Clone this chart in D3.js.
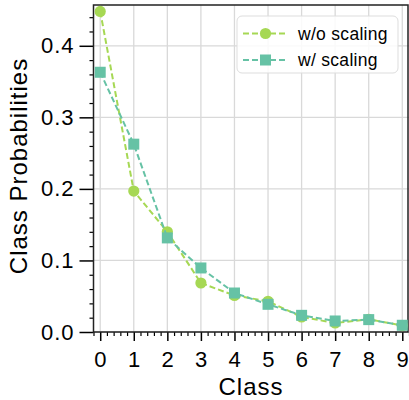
<!DOCTYPE html>
<html>
<head>
  <meta charset="utf-8">
  <title>Class Probabilities</title>
  <script src="https://cdnjs.cloudflare.com/ajax/libs/d3/7.8.5/d3.min.js"></script>
  <style>
    body { margin: 0; background: #fff; }
    text { font-family: "Liberation Sans", Arial, sans-serif; }
  </style>
</head>
<body>
<div id="chart"></div>
<script>
var classes = [0, 1, 2, 3, 4, 5, 6, 7, 8, 9];
var withoutScaling = [0.448, 0.197, 0.140, 0.0685, 0.051, 0.043, 0.021, 0.0126, 0.0178, 0.009];
var withScaling = [0.363, 0.2625, 0.1315, 0.0895, 0.0545, 0.0387, 0.0233, 0.0154, 0.0173, 0.0094];
var yTicks = [0.0, 0.1, 0.2, 0.3, 0.4];
var seriesNames = ['w/o scaling', 'w/ scaling'];

var W = 409, H = 400;
var svg = d3.select('#chart').append('svg')
  .attr('width', W).attr('height', H);

var x = d3.scaleLinear().domain([-0.2, 9.2]).range([93.5, 409]);
var y = d3.scaleLinear().domain([0, 0.457]).range([332, 5]);

// grid
svg.append('g').selectAll('line').data(classes).enter().append('line')
  .attr('x1', d => x(d)).attr('x2', d => x(d))
  .attr('y1', y.range()[1]).attr('y2', y.range()[0])
  .attr('stroke', '#d9d9d9').attr('stroke-width', 1.3);
svg.append('g').selectAll('line').data(yTicks).enter().append('line')
  .attr('y1', d => y(d)).attr('y2', d => y(d))
  .attr('x1', x.range()[0]).attr('x2', x.range()[1])
  .attr('stroke', '#d9d9d9').attr('stroke-width', 1.3);

// axes
var xMinor = d3.range(-0.2, 9.21, 0.2).filter(v => Math.abs(v - Math.round(v)) > 0.01);
var yMinor = d3.range(0, 0.457, 0.02).filter(v => Math.abs(v * 10 - Math.round(v * 10)) > 0.01);

svg.append('g').attr('transform', 'translate(0,332)')
  .call(d3.axisBottom(x).tickValues(xMinor).tickSize(4).tickFormat(''))
  .call(g => g.select('.domain').remove())
  .selectAll('line').attr('stroke-width', 1.2);
svg.append('g').attr('transform', 'translate(0,332)')
  .call(d3.axisBottom(x).tickValues(classes).tickSize(9).tickPadding(10).tickFormat(d3.format('d')))
  .call(g => g.select('.domain').remove())
  .call(g => g.selectAll('line').attr('stroke-width', 1.5))
  .call(g => g.selectAll('text').attr('font-size', 22).attr('letter-spacing', 0.5).attr('fill', '#000'));

svg.append('g').attr('transform', 'translate(93.5,0)')
  .call(d3.axisLeft(y).tickValues(yMinor).tickSize(4).tickFormat(''))
  .call(g => g.select('.domain').remove())
  .selectAll('line').attr('stroke-width', 1.2);
svg.append('g').attr('transform', 'translate(93.5,0)')
  .call(d3.axisLeft(y).tickValues(yTicks).tickSize(14).tickPadding(5).tickFormat(d3.format('.1f')))
  .call(g => g.select('.domain').remove())
  .call(g => g.selectAll('line').attr('stroke-width', 1.5))
  .call(g => g.selectAll('text').attr('font-size', 22).attr('letter-spacing', 1).attr('fill', '#000'));

// frame
svg.append('rect')
  .attr('x', x.range()[0]).attr('y', y.range()[1])
  .attr('width', x.range()[1] - x.range()[0] - 1)
  .attr('height', y.range()[0] - y.range()[1])
  .attr('fill', 'none').attr('stroke', '#222').attr('stroke-width', 1.5);

// series
var colors = ['#a6d854', '#66c2a5'];
var data = [withoutScaling, withScaling];
var line = d3.line().x((d, i) => x(classes[i])).y(d => y(d));

data.forEach(function(vals, k) {
  svg.append('path').datum(vals)
    .attr('d', line).attr('fill', 'none')
    .attr('stroke', colors[k]).attr('stroke-width', 2)
    .attr('stroke-dasharray', '6,3');
  var g = svg.append('g');
  if (k === 0) {
    g.selectAll('circle').data(vals).enter().append('circle')
      .attr('cx', (d, i) => x(classes[i])).attr('cy', d => y(d))
      .attr('r', 5.6).attr('fill', colors[k]);
  } else {
    g.selectAll('rect').data(vals).enter().append('rect')
      .attr('x', (d, i) => x(classes[i]) - 5.5).attr('y', d => y(d) - 5.5)
      .attr('width', 11).attr('height', 11).attr('fill', colors[k]);
  }
});

// legend
var lg = svg.append('g');
lg.append('rect').attr('x', 237).attr('y', 16).attr('width', 161).attr('height', 57)
  .attr('rx', 5).attr('fill', 'rgba(255,255,255,0.85)')
  .attr('stroke', '#dddddd').attr('stroke-width', 1);
var rowsY = [33.5, 60];
seriesNames.forEach(function(name, k) {
  var cy = rowsY[k];
  lg.append('line').attr('x1', 243).attr('x2', 288).attr('y1', cy).attr('y2', cy)
    .attr('stroke', colors[k]).attr('stroke-width', 2).attr('stroke-dasharray', '6,3');
  if (k === 0) {
    lg.append('circle').attr('cx', 265.5).attr('cy', cy).attr('r', 5.6).attr('fill', colors[k]);
  } else {
    lg.append('rect').attr('x', 260).attr('y', cy - 5.5).attr('width', 11).attr('height', 11).attr('fill', colors[k]);
  }
  lg.append('text').attr('x', 298).attr('y', cy + 6)
    .attr('font-size', 17.5).attr('letter-spacing', 0.3).text(name);
});

// axis labels
svg.append('text').attr('x', 251).attr('y', 395)
  .attr('text-anchor', 'middle').attr('font-size', 24).attr('letter-spacing', 1)
  .text('Class');
svg.append('text').attr('transform', 'translate(27,166) rotate(-90)')
  .attr('text-anchor', 'middle').attr('font-size', 24).attr('letter-spacing', 1)
  .text('Class Probabilities');
</script>
</body>
</html>
